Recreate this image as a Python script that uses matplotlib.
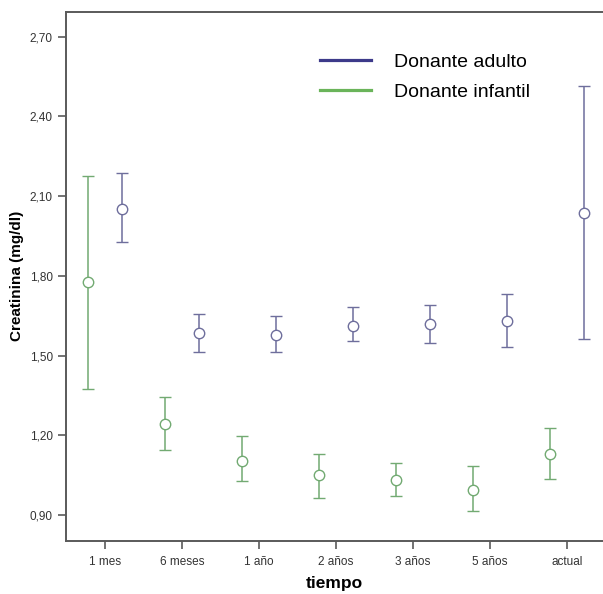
import matplotlib
matplotlib.use("Agg")
import matplotlib.pyplot as plt
from matplotlib.lines import Line2D
from matplotlib.ticker import FuncFormatter

plt.rcParams['font.family'] = ['Liberation Sans', 'DejaVu Sans']

tiempo = ["1 mes", "6 meses", "1 año", "2 años", "3 años", "5 años", "actual"]

# Donante adulto: media, limite inferior, limite superior
adulto_media = [2.051, 1.584, 1.578, 1.612, 1.620, 1.629, 2.036]
adulto_inf = [1.926, 1.513, 1.513, 1.554, 1.546, 1.533, 1.562]
adulto_sup = [2.186, 1.656, 1.650, 1.683, 1.691, 1.730, 2.516]

# Donante infantil
infantil_media = [1.777, 1.243, 1.104, 1.050, 1.032, 0.994, 1.129]
infantil_inf = [1.375, 1.144, 1.027, 0.964, 0.971, 0.915, 1.036]
infantil_sup = [2.176, 1.344, 1.196, 1.131, 1.094, 1.083, 1.226]

azul = "#3d3a8a"
azul_barra = "#6e6e9c"
verde = "#6ab45a"
verde_barra = "#72aa72"

fig = plt.figure(figsize=(6.03, 5.94), dpi=100)
ax = fig.add_axes([66 / 603, 1 - 540.7 / 594, 1 - 66 / 603, (540.7 - 12) / 594])

pos = list(range(len(tiempo)))
desp = 0.22

def dibujar(media, inf, sup, dx, color_barra):
    x = [p + dx for p in pos]
    err = [[m - lo for m, lo in zip(media, inf)], [hi - m for m, hi in zip(media, sup)]]
    ax.errorbar(x, media, yerr=err, fmt="o", color=color_barra, ecolor=color_barra,
                elinewidth=1.1, capsize=4, capthick=1.1, markersize=7.5,
                markerfacecolor="white", markeredgecolor=color_barra, markeredgewidth=1.0)

dibujar(infantil_media, infantil_inf, infantil_sup, -desp, verde_barra)
dibujar(adulto_media, adulto_inf, adulto_sup, desp, azul_barra)

ax.set_xlim(-0.506, 6.47)
ax.set_ylim(0.803, 2.793)
ax.set_xticks(pos)
ax.set_xticklabels(tiempo)
ax.set_yticks([0.90, 1.20, 1.50, 1.80, 2.10, 2.40, 2.70])
ax.yaxis.set_major_formatter(FuncFormatter(lambda v, p: f"{v:.2f}".replace(".", ",")))

for lado in ["left", "top", "bottom"]:
    ax.spines[lado].set_color("#5a5a5a")
    ax.spines[lado].set_linewidth(1.4)
ax.spines["right"].set_visible(False)
ax.tick_params(axis="both", direction="out", length=6, width=1.2, color="#5a5a5a",
               labelsize=8.5, labelcolor="#333333")
ax.tick_params(axis="x", pad=5)

ax.set_xlabel("tiempo", fontsize=12.5, fontweight="bold", labelpad=6)
ax.set_ylabel("Creatinina (mg/dl)", fontsize=11, fontweight="bold", labelpad=4)

handles = [Line2D([], [], color=azul, lw=2.3), Line2D([], [], color=verde, lw=2.3)]
fig.legend(handles, ["Donante adulto", "Donante infantil"], loc="upper left",
           bbox_to_anchor=(320 / 603, 1 - 53 / 594), frameon=False, fontsize=14,
           handlelength=2.6, handletextpad=1.2, labelspacing=0.65, borderpad=0,
           borderaxespad=0)

fig.savefig("out.png", dpi=100)
